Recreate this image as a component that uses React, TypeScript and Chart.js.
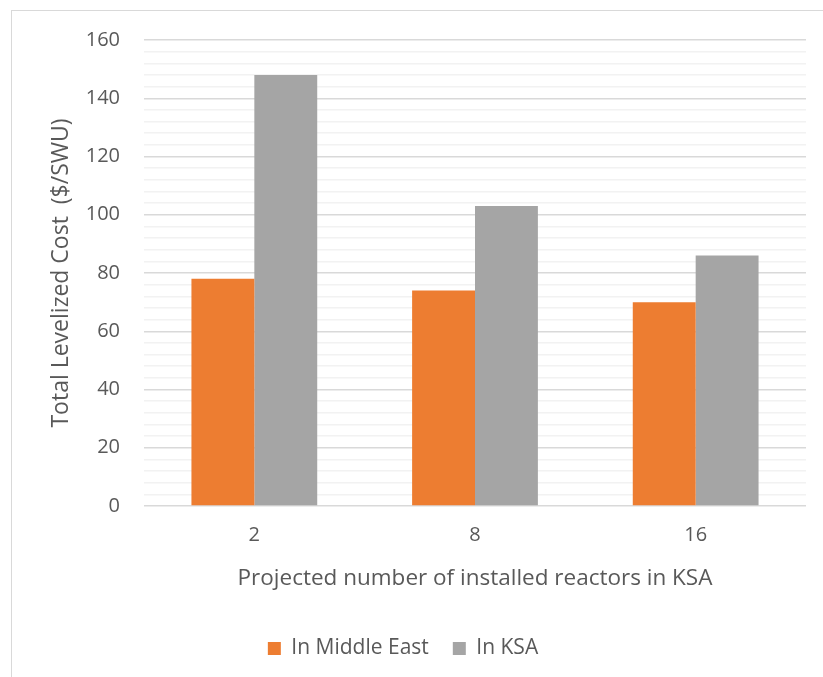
import React, { useEffect, useRef } from "react";
import { Chart, registerables } from "chart.js";

Chart.register(...registerables);

const categories = ["2", "8", "16"];
const middleEast = [78, 74, 70];
const ksa = [148, 103, 86];
const seriesNames = ["In Middle East", "In KSA"];
const yTitle = "Total Levelized Cost  ($/SWU)";
const xTitle = "Projected number of installed reactors in KSA";

const FONT = "'Open Sans', sans-serif";
const TEXT = "#595959";

export default function App() {
  const ref = useRef<HTMLCanvasElement>(null);
  useEffect(() => {
    if (!ref.current) return;
    const chart = new Chart(ref.current, {
      type: "bar",
      data: {
        labels: categories,
        datasets: [
          { label: seriesNames[0], data: middleEast, backgroundColor: "#ED7D31", categoryPercentage: 0.57, barPercentage: 1 },
          { label: seriesNames[1], data: ksa, backgroundColor: "#A5A5A5", categoryPercentage: 0.57, barPercentage: 1 },
        ],
      },
      options: {
        animation: false,
        responsive: false,
        layout: { padding: { left: 0, right: 17, top: 40, bottom: 8 } },
        plugins: {
          tooltip: { enabled: false },
          legend: {
            position: "bottom",
            labels: {
              font: { family: FONT, size: 21 },
              color: TEXT,
              boxWidth: 13,
              boxHeight: 13,
              padding: 24,
            },
          },
        },
        scales: {
          x: {
            grid: { display: false, drawTicks: false },
            border: { display: false },
            ticks: { font: { family: FONT, size: 20 }, color: TEXT, padding: 17 },
            title: { display: true, text: xTitle, font: { family: FONT, size: 22.5 }, color: TEXT, padding: { top: 0, bottom: 22 } },
            afterFit: (s: any) => { s.height = 108; },
          },
          y: {
            min: 0,
            max: 160,
            border: { display: false },
            grid: {
              drawTicks: false,
              lineWidth: 1.5,
              color: (ctx: any) => (ctx.tick && ctx.tick.value % 20 === 0 ? "#D9D9D9" : "#F2F2F2"),
            },
            ticks: {
              stepSize: 4,
              autoSkip: false,
              padding: 24,
              font: { family: FONT, size: 20 },
              color: TEXT,
              callback: (v: any) => (Number(v) % 20 === 0 ? String(v) : ""),
            },
            title: { display: true, text: yTitle, font: { family: FONT, size: 23 }, color: TEXT, padding: { top: 48, bottom: 0 } },
            afterFit: (s: any) => { s.width = 144; },
          },
        },
      },
    });
    return () => chart.destroy();
  }, []);
  return (
    <div style={{ position: "fixed", left: 0, top: 0, width: 823, height: 677, background: "#fff", overflow: "hidden" }}>
      <div style={{ position: "absolute", left: 11, top: 10, width: 900, height: 900, border: "1.5px solid #D9D9D9", boxSizing: "border-box" }} />
      <canvas ref={ref} width={823} height={677} style={{ position: "absolute", left: 0, top: 0 }} />
    </div>
  );
}
